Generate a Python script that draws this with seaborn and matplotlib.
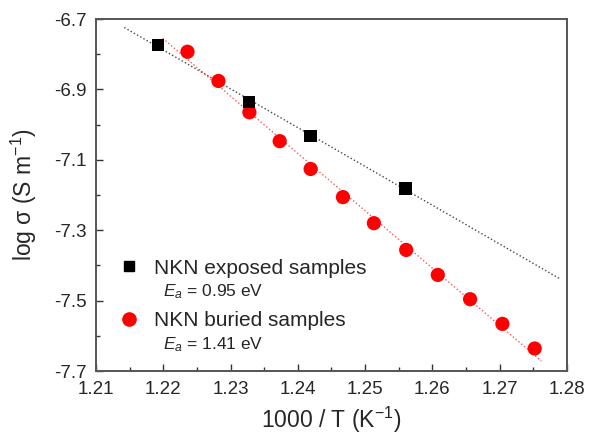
import matplotlib

matplotlib.use("Agg")
import matplotlib.pyplot as plt
import numpy as np
import pandas as pd
import seaborn as sns
from matplotlib.lines import Line2D
from matplotlib.ticker import FormatStrFormatter, MultipleLocator

# exposed samples (black squares)
exposed_x = [1.2192, 1.2327, 1.2419, 1.2560]
exposed_y = [-6.774, -6.935, -7.032, -7.181]

# buried samples (red circles)
buried_x = [1.2236, 1.2282, 1.2328, 1.2373, 1.2419, 1.2467,
            1.2513, 1.2561, 1.2608, 1.2656, 1.2704, 1.2752]
buried_y = [-6.793, -6.876, -6.965, -7.047, -7.126, -7.206,
            -7.280, -7.356, -7.427, -7.496, -7.566, -7.636]

# x extent of the drawn linear fits
exposed_fit_range = [1.2142, 1.2790]
buried_fit_range = [1.2199, 1.2762]

labels = ["NKN exposed samples", "NKN buried samples"]
ea_labels = ["$E_a$ = 0.95 eV", "$E_a$ = 1.41 eV"]

sns.set_style("ticks")
plt.rcParams["font.family"] = ["Liberation Sans", "DejaVu Sans"]
plt.rcParams["mathtext.fontset"] = "custom"
plt.rcParams["mathtext.it"] = "Liberation Sans:italic"
plt.rcParams["mathtext.rm"] = "Liberation Sans"

fig = plt.figure(figsize=(5.9, 4.37), dpi=100)
ax = fig.add_axes([0.1627, 0.151, 0.7983, 0.8055])


def fit_df(xs, ys, xr):
    k, b = np.polyfit(xs, ys, 1)
    xr = np.array(xr)
    return pd.DataFrame({"x": xr, "y": k * xr + b})


sns.lineplot(data=fit_df(exposed_x, exposed_y, exposed_fit_range), x="x", y="y",
             color="#444444", linestyle=":", linewidth=1.0, ax=ax)
sns.lineplot(data=fit_df(buried_x, buried_y, buried_fit_range), x="x", y="y",
             color="#ff5555", linestyle=":", linewidth=1.0, ax=ax)

sns.scatterplot(x=buried_x, y=buried_y, marker="o", color="#ff0000",
                s=105, edgecolor="none", ax=ax, zorder=3)
sns.scatterplot(x=exposed_x, y=exposed_y, marker="s", color="black",
                s=80, edgecolor="none", ax=ax, zorder=4)

ax.set_xlim(1.21, 1.28)
ax.set_ylim(-7.7, -6.7)
ax.xaxis.set_major_locator(MultipleLocator(0.01))
ax.xaxis.set_minor_locator(MultipleLocator(0.005))
ax.set_yticks(np.arange(-7.7, -6.65, 0.2))
ax.yaxis.set_minor_locator(MultipleLocator(0.1))
ax.xaxis.set_major_formatter(FormatStrFormatter("%.2f"))
ax.yaxis.set_major_formatter(FormatStrFormatter("%.1f"))
ax.tick_params(which="both", direction="in", top=False, right=False,
               color="#333333", labelsize=13.5, width=1.0, pad=7)
ax.tick_params(which="major", length=5)
ax.tick_params(which="minor", length=3)
for sp in ax.spines.values():
    sp.set_color("#555555")
    sp.set_linewidth(1.4)

ax.set_xlabel("1000 / T (K$^{-1}$)", fontsize=16.5)
ax.set_ylabel("log \u03c3 (S m$^{-1}$)", fontsize=16.5)
ax.xaxis.set_label_coords(0.5, -0.095)
ax.yaxis.set_label_coords(-0.12, 0.5)

handles = [
    Line2D([], [], marker="s", color="black", linestyle="none", markersize=7),
    Line2D([], [], marker="o", color="#ff0000", linestyle="none", markersize=9.5),
]
ax.legend(handles, labels, loc="center left", bbox_to_anchor=(0.025, 0.218),
          frameon=False, fontsize=15, labelspacing=1.6, handletextpad=0.6,
          handlelength=1.2, borderaxespad=0.0)
ax.text(0.142, 0.225, ea_labels[0], transform=ax.transAxes, fontsize=12.5, va="center")
ax.text(0.142, 0.074, ea_labels[1], transform=ax.transAxes, fontsize=12.5, va="center")

fig.savefig("out.png", dpi=100)
